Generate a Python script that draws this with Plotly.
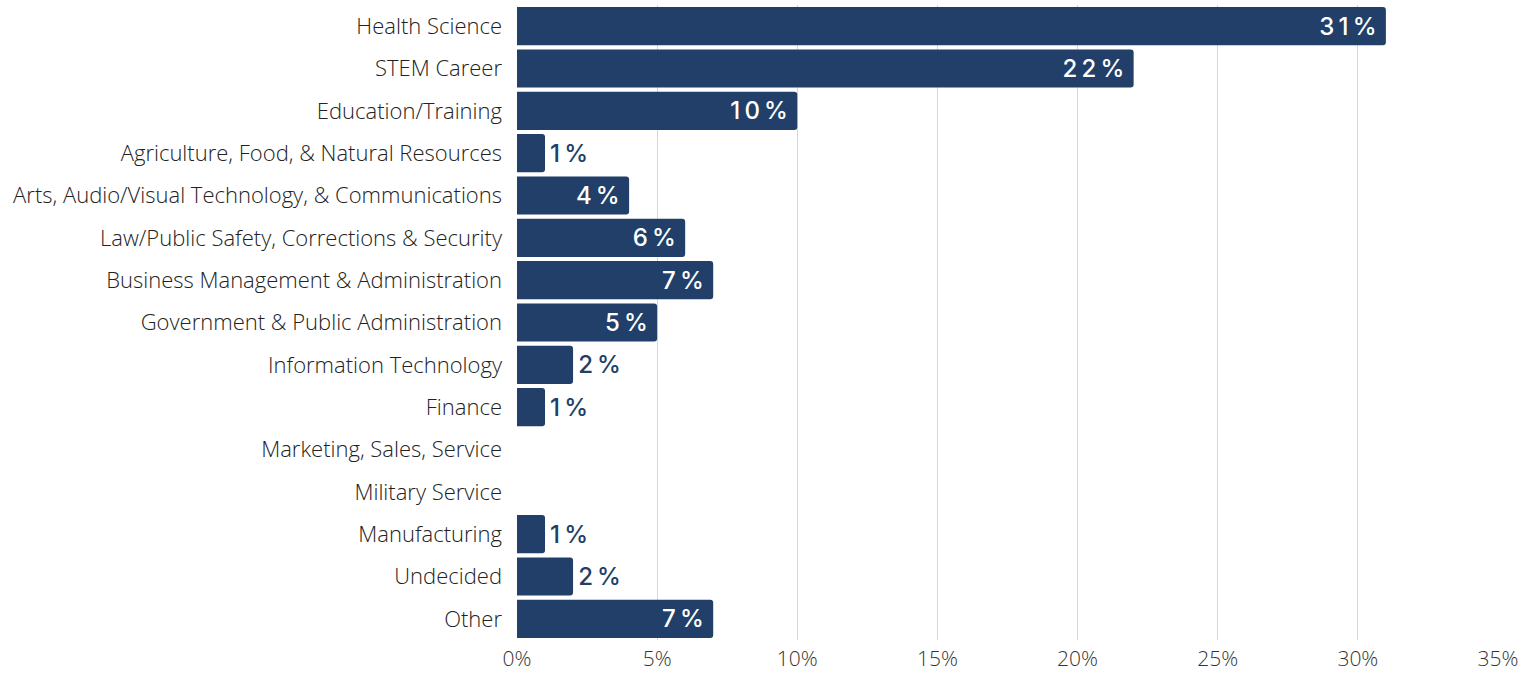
import plotly.graph_objects as go

categories = ["Health Science", "STEM Career", "Education/Training",
              "Agriculture, Food, & Natural Resources",
              "Arts, Audio/Visual Technology, & Communications",
              "Law/Public Safety, Corrections & Security",
              "Business Management & Administration",
              "Government & Public Administration",
              "Information Technology", "Finance",
              "Marketing, Sales, Service", "Military Service",
              "Manufacturing", "Undecided", "Other"]
values = [31, 22, 10, 1, 4, 6, 7, 5, 2, 1, 0, 0, 1, 2, 7]
x_ticks = [0, 5, 10, 15, 20, 25, 30, 35]

navy = "#213f69"
sp = "\u2009"
# spaced-out labels, padded when drawn inside the bar
labels = []
positions = []
for v in values:
    if v == 0:
        labels.append("")
        positions.append("none")
    elif v >= 4:
        labels.append(sp.join(f"{v}%") + "\u00a0")
        positions.append("inside")
    else:
        labels.append("\u200a" + sp.join(f"{v}%"))
        positions.append("outside")

fig = go.Figure()
fig.add_trace(go.Bar(
    y=categories, x=values, orientation="h",
    marker=dict(color=navy, line=dict(width=0)),
    text=labels, textposition=positions, insidetextanchor="end",
    insidetextfont=dict(family="Inter", size=24, color="white", weight=500),
    outsidetextfont=dict(family="Inter", size=24, color=navy, weight=500),
    cliponaxis=False, hoverinfo="skip",
))

fig.update_layout(
    width=1533, height=673,
    margin=dict(l=517, r=35, t=5, b=33),
    plot_bgcolor="white", paper_bgcolor="white",
    bargap=0.1, barcornerradius=3,
    showlegend=False,
    uniformtext=dict(minsize=24, mode="show"),
)
fig.update_xaxes(
    range=[0, 35], tickvals=x_ticks, ticktext=[f"{t}%" for t in x_ticks],
    showgrid=True, gridcolor="#d6d6d6", gridwidth=1, zeroline=False,
    tickfont=dict(family="Open Sans", size=21, color="#333333", weight=300),
    showline=False, ticklabelstandoff=4, automargin=False,
)
fig.update_yaxes(
    autorange="reversed", showgrid=False, zeroline=False,
    tickfont=dict(family="Open Sans", size=22, color="#222222", weight=300),
    ticklabelstandoff=14, automargin=False,
)

fig.write_html("out.html", config={"displayModeBar": False},
               post_script="document.body.style.margin='0px';")
